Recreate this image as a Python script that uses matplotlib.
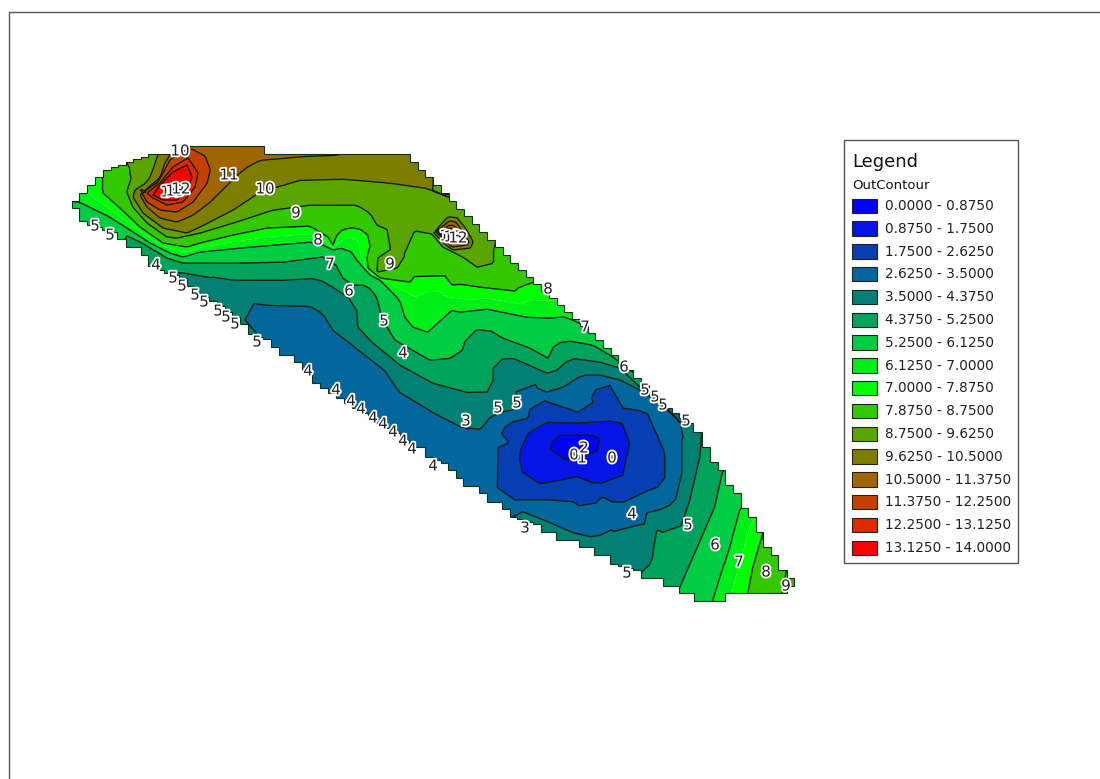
import numpy as np
import matplotlib
matplotlib.use("Agg")
import matplotlib.pyplot as plt
from matplotlib.patches import Polygon, Rectangle
from matplotlib.tri import Triangulation
import matplotlib.patheffects as pe

plt.rcParams['font.family'] = ['DejaVu Sans']

# ---- legend ----------------------------------------------------------------
band_edges = [0.0, 0.875, 1.75, 2.625, 3.5, 4.375, 5.25, 6.125, 7.0, 7.875,
              8.75, 9.625, 10.5, 11.375, 12.25, 13.125, 14.0]
band_labels = ["0.0000 - 0.8750", "0.8750 - 1.7500", "1.7500 - 2.6250", "2.6250 - 3.5000",
               "3.5000 - 4.3750", "4.3750 - 5.2500", "5.2500 - 6.1250", "6.1250 - 7.0000",
               "7.0000 - 7.8750", "7.8750 - 8.7500", "8.7500 - 9.6250", "9.6250 - 10.5000",
               "10.5000 - 11.3750", "11.3750 - 12.2500", "12.2500 - 13.1250", "13.1250 - 14.0000"]
band_colors = ["#0000ff", "#0515e8", "#063fb4", "#03669c", "#028073", "#00a35c", "#00cc44", "#00ef18",
               "#00ff00", "#33c800", "#5aa500", "#7d7d00", "#a06400", "#c34100", "#e12800", "#ff0000"]

# ---- contour lines (image pixel positions) ----------------------------------
iso_0875 = [(550,447),(553,438),(563,435),(597,435),(600,440),(597,453),(580,455),(560,463),(550,463),(550,447)]
iso_1750 = [(518,455),(528,433),(547,422),(573,423),(610,421),(622,423),(630,443),(648,455),(648,470),
            (633,472),(597,485),(577,477),(547,483),(525,485),(518,455)]
iso_2625 = [(500,510),(503,503),(517,500),(547,500),(573,502),(587,512),(602,497),(618,505),(650,490),(665,485),
            (665,453),(658,437),(663,427),(657,417),(638,410),(623,408),(640,400),(617,383),(588,392),(593,402),
            (578,412),(537,398),(533,395),(528,418),(507,423),(498,440),(497,487),(500,510)]
iso_3500_a = [(228,296),(233,300),(267,305),(310,306),(323,313),(333,330),(350,343),(385,370),(400,392),(433,412),
              (462,427),(480,429),(488,420),(494,400),(500,412),(513,410),(517,400),(515,390),(508,382),(510,373),
              (517,373),(533,378),(537,388),(547,392),(563,387),(582,375),(600,375),(620,380),(640,390),(660,403),
              (673,415),(687,430),(682,440),(682,473),(675,503),(660,510),(647,513),(642,537),(633,549),(622,543),
              (612,530),(595,538),(573,533),(543,520),(523,512),(513,517),(505,525)]
iso_3500_b = [(233,300),(243,318),(255,332),(262,345)]
iso_4375_a = [(152,276),(160,270),(183,272),(200,275),(233,280),(283,280),(317,278),(333,287),(357,303),(358,327),
              (372,342),(400,365),(433,383),(467,392),(487,392),(493,380),(493,360),(513,358),(547,373),(557,370),
              (570,358),(600,362),(620,368),(640,387),(648,394)]
iso_4375_b = [(708,425),(702,432),(700,457),(690,500),(680,530),(672,537),(657,530),(654,547),(652,563),(643,571),(636,580)]
iso_5250_a = [(112,226),(120,232),(143,243),(167,258),(183,263),(200,263),(233,263),(283,262),(313,258),(335,255),
              (335,263),(343,278),(353,285),(367,285),(377,297),(382,318),(395,340),(430,360),(450,358),(462,350),
              (467,333),(485,327),(503,338),(530,348),(548,358),(555,343),(570,341),(593,345),(613,357),(630,370),(638,376)]
iso_5250_b = [(730,465),(723,472),(715,507),(702,537),(680,588),(675,600)]
iso_6125_a = [(66,200),(80,202),(103,213),(127,228),(150,243),(170,253),(183,257),(200,252),(250,247),(310,242),(323,245),
              (333,250),(348,247),(357,260),(370,275),(380,280),(400,300),(405,317),(413,327),(428,332),(418,322),
              (417,312),(437,307),(460,312),(487,309),(527,317),(550,318),(557,314),(578,322),(586,328)]
iso_6125_b = [(746,503),(740,510),(730,547),(713,601),(710,610)]
iso_7875_a = [(103,166),(103,183),(103,193),(120,208),(140,227),(163,243),(187,247),(200,243),(233,235),(267,228),(310,226),
              (328,237),(333,245),(338,232),(350,227),(363,230),(372,240),(367,257),(368,268),(380,278),(410,282),
              (425,262),(437,258),(443,273),(452,285),(460,284),(480,287),(515,291),(525,281),(540,283),(548,276)]
iso_7875_b = [(768,528),(763,533),(753,567),(748,593),(746,600)]
iso_8750_a = [(124,156),(127,163),(133,173),(127,192),(133,207),(147,223),(167,237),(177,238),(200,233),(233,223),(273,210),
              (310,205),(357,205),(370,213),(377,225),(393,232),(410,233),(425,228),(433,235),(443,247),(463,257),
              (477,267),(493,263),(493,250),(496,238),(502,232)]
iso_8750_b = [(378,258),(393,248),(405,255),(397,268),(377,272),(378,258)]
iso_8750_c = [(792,566),(787,570),(782,593),(780,600)]
iso_9625_a = [(160,148),(158,155),(153,170),(148,182),(135,190),(133,197),(143,213),(163,228),(187,233),(200,227),(233,210),
              (260,192),(300,180),(343,179),(393,183),(427,188),(448,197),(454,192)]
iso_9625_b = [(434,233),(448,217),(457,218),(465,228),(473,242),(470,248),(453,250),(446,245),(434,233)]
iso_10500_a = [(172,148),(170,155),(165,163),(160,178),(150,186),(140,195),(147,207),(160,218),(177,222),(193,215),
               (210,202),(227,185),(237,175),(247,167),(260,160),(310,156),(337,155),(345,148)]
iso_10500_b = [(436,232),(449,221),(456,222),(462,231),(469,242),(467,245),(452,247),(448,243),(436,232)]
iso_11375_a = [(192,150),(205,157),(210,170),(207,183),(193,202),(177,212),(160,210),(147,202),(142,193),(158,182),
               (170,160),(182,152),(192,150)]
iso_11375_b = [(438,232),(450,225),(455,226),(460,234),(464,241),(452,244),(438,232)]
iso_12250_a = [(188,158),(198,173),(195,187),(183,202),(167,205),(153,198),(147,193),(160,183),(173,167),(188,158)]
iso_12250_b = [(440,232),(450,228),(456,231),(460,238),(452,242),(440,232)]
iso_13125_a = [(187,165),(192,177),(187,190),(177,200),(163,200),(153,195),(160,185),(173,172),(187,165)]
iso_13125_b = [(442,233),(451,231),(455,236),(451,239),(442,233)]

iso_lines = [(0.875, iso_0875), (1.75, iso_1750), (2.625, iso_2625),
             (3.5, iso_3500_a), (3.5, iso_3500_b), (4.375, iso_4375_a), (4.375, iso_4375_b),
             (5.25, iso_5250_a), (5.25, iso_5250_b), (6.125, iso_6125_a), (6.125, iso_6125_b),
             (7.875, iso_7875_a), (7.875, iso_7875_b), (8.75, iso_8750_a), (8.75, iso_8750_b), (8.75, iso_8750_c),
             (9.625, iso_9625_a), (9.625, iso_9625_b), (10.5, iso_10500_a), (10.5, iso_10500_b),
             (11.375, iso_11375_a), (11.375, iso_11375_b), (12.25, iso_12250_a), (12.25, iso_12250_b),
             (13.125, iso_13125_a), (13.125, iso_13125_b)]

# spot values between the lines and around the map edge
spot_x = [176,181,168,451,572,590,390,  225,300,  60,60,85,100,125,150,200,300,420,455,
          100,135,200,240,262,330,400,450,490,525,580,630,660,695,730,765,800,812,
          520,560,610,640,665,680,705,732,752,775,795,806,
          300,300,258,430,300,600,620,700,700,720,770,470,530,560,
          250,400,380,470,210,430,500,540, 40,40,830,830,830,300,300,40,
          445,462,430,482,482, 280,305,325,360,400,440]
spot_y = [186,176,194,235,447,445,260,  160,165,  200,216,182,165,150,146,136,140,150,190,
          242,264,312,342,352,402,452,487,522,532,562,587,602,617,617,612,607,575,
          250,290,332,372,392,405,418,452,495,525,555,570,
          195,293,320,345,270,400,430,480,565,550,570,300,330,380,
          208,210,300,270,257,397,440,440, 120,320,120,320,640,120,640,640,
          208,208,212,245,225, 322,325,345,385,415,440]
spot_z = [14.0,14.0,14.0,14.0,0.4,0.4,9.1,  11.0,10.0,  7.0,5.7,7.5,8.3,8.3,9.2,11.2,10.6,9.9,9.2,
          5.7,4.8,4.0,3.9,3.1,3.1,3.1,3.1,3.1,4.0,4.0,4.0,4.8,5.7,7.0,8.3,9.2,9.2,
          8.3,7.5,5.7,4.8,4.0,3.1,3.9,4.8,5.7,7.0,8.3,9.2,
          9.2,3.9,3.1,5.7,4.8,2.2,1.3,4.8,5.7,5.7,8.3,7.0,5.7,3.9,
          9.2,9.2,5.7,8.3,5.7,3.9,3.1,1.3, 7.0,4.0,9.0,5.0,7.0,10.5,4.0,3.0,
          9.2,9.2,9.2,9.2,9.2, 3.1,3.1,3.1,3.1,3.1,3.1]

# stair-stepped map outline: anchor corners
outline_top_rise = [(72,201),(79,193),(87,185),(95,177),(103,170),(126,162),(148,154),(173,154),(189,146)]
outline_top_flat = [(264,146),(264,154),(410,154)]
outline_right = [(518,263),(603,340),(633,370),(672,408),(693,423),(702,432),(702,447),(710,447),(710,462),(718,462),
                 (718,470),(725,470),(725,485),(733,485),(741,493),(741,508),(748,508),(748,517),(756,517),(756,532),
                 (763,532),(763,547),(771,547),(771,555),(778,555),(778,570),(787,570),(787,578),(794,578),(794,586),
                 (787,586),(787,593),(725,593),(725,601),(694,601),(694,593),(679,593),(679,586),(663,586),(663,578),(641,578)]
outline_low = [(72,208),(79,208),(79,216),(95,225),(117,232),(117,239),(126,239),(126,247),(141,247),(141,255),(148,255),
               (148,262),(164,270),(187,278),(200,293),(217,301),(240,317),(248,324),(248,332),(271,339),(271,347),(279,347),
               (279,355),(294,355),(294,362),(302,362),(312,370),(312,378),(400,433),(417,447),(425,447),(433,457),(448,463),
               (448,470),(456,470),(456,478),(463,478),(463,486),(479,486),(479,493),(487,493),(487,502),(502,502),(502,509),
               (510,509),(510,517),(517,517),(541,524),(541,532),(556,532),(556,540),(579,540),(579,547),(594,547),(594,555),
               (610,555),(610,562),(641,570),(641,578)]

# contour labels
label_text = ["5","5","4","5","5","5","5","5","5","5","5","4","4","4","4","4","4","4","4","4","4",
              "3","5","3","5","5","0","1","2","0","4","5","6","7","8","9","5","5","5","5","6","7","8",
              "10","11","10","9","8","7","6","5","4","9","14","13","12","14","13","12"]
label_x = [95,110,156,173,182,195,204,218,226,235,257,308,336,351,361,373,383,393,403,412,433,
           525,627,466,498,517,574,582,584,612,632,688,715,739,766,786,686,645,655,663,624,585,548,
           180,229,265,296,318,330,349,384,403,390,170,175,181,449,453,458]
label_y = [226,235,265,278,286,295,302,311,317,324,342,371,390,401,409,418,424,432,441,449,466,
           528,573,421,408,403,455,458,448,458,514,525,545,562,572,586,421,390,397,405,367,327,289,
           151,175,189,213,240,264,291,321,353,264,192,191,189,236,237,238]

# ---- figure -------------------------------------------------------------------
fig = plt.figure(figsize=(11, 7.79), dpi=100)
ax = fig.add_axes([0, 0, 1, 1])
ax.set_xlim(0, 1100)
ax.set_ylim(779, 0)
ax.axis('off')

# page frame
ax.plot([9, 9, 1100], [779, 12, 12], color="#555555", lw=1.0, solid_capstyle='butt')


def stairs(points, first):
    """Turn anchor corners into map-cell steps."""
    out = [points[0]]
    for (x0, y0), (x1, y1) in zip(points[:-1], points[1:]):
        dx, dy = x1 - x0, y1 - y0
        if dx == 0 or dy == 0:
            out.append((x1, y1))
            continue
        n = max(1, int(round(max(abs(dx), abs(dy)) / 7.7)))
        for i in range(n):
            xa, xb = x0 + dx * i / n, x0 + dx * (i + 1) / n
            ya, yb = y0 + dy * i / n, y0 + dy * (i + 1) / n
            out += [(xb, ya), (xb, yb)] if first == 'x' else [(xa, yb), (xb, yb)]
    return out


outer = (stairs(outline_top_rise, 'x') + outline_top_flat[:] + stairs([outline_top_flat[-1]] + [outline_right[0]], 'y')
         + stairs(outline_right, 'y') + stairs(outline_low, 'y')[::-1])


def trace(points, step=2.5):
    """Sample a read contour along its length so the triangulation follows it."""
    p = np.array(points, float)
    d = np.r_[0, np.cumsum(np.hypot(*np.diff(p, axis=0).T))]
    t = np.linspace(0, d[-1], max(2, int(d[-1] / step) + 1))
    return np.interp(t, d, p[:, 0]), np.interp(t, d, p[:, 1])


xs, ys, zs = [np.array(spot_x, float)], [np.array(spot_y, float)], [np.array(spot_z, float)]
for level, line in iso_lines:
    a, b = trace(line)
    xs.append(a)
    ys.append(b)
    zs.append(np.full(a.size, level + 0.01))
xs, ys, zs = np.concatenate(xs), np.concatenate(ys), np.concatenate(zs)
xy = np.round(np.c_[xs, ys], 1)
_, keep = np.unique(xy, axis=0, return_index=True)
keep = np.sort(keep)
tri = Triangulation(xs[keep], ys[keep])
values = zs[keep]

clip = Polygon(outer, closed=True, transform=ax.transData, facecolor='none', edgecolor='none')
ax.add_patch(clip)
filled = ax.tricontourf(tri, values, levels=band_edges, colors=band_colors, extend='neither', antialiased=True)
filled.set_clip_path(clip)
line_levels = [v for v in band_edges[1:-1] if v != 7.0]
lines = ax.tricontour(tri, values, levels=line_levels, colors="#0a1a0a", linewidths=0.95)
lines.set_clip_path(clip)
ax.add_patch(Polygon(outer, closed=True, facecolor='none', edgecolor="#123312", lw=0.8))

halo = [pe.withStroke(linewidth=2.6, foreground='white')]
for tx, lx, ly in zip(label_text, label_x, label_y):
    ax.text(lx, ly, tx, fontsize=10.8, color="#222222", ha='center', va='center', path_effects=halo, zorder=6)

# legend box
ax.add_patch(Rectangle((844, 140), 174, 423, facecolor='white', edgecolor="#555555", lw=1.0, zorder=7))
ax.text(852, 162, "Legend", fontsize=13, color="#111111", va='center', zorder=8)
ax.text(852, 185, "OutContour", fontsize=9.5, color="#111111", va='center', zorder=8)
for i, (lab, col) in enumerate(zip(band_labels, band_colors)):
    y = 198.5 + i * 22.8
    ax.add_patch(Rectangle((852, y), 25, 14.5, facecolor=col, edgecolor="#222222", lw=0.8, zorder=8))
    ax.text(885, y + 7.5, lab, fontsize=9.8, color="#222222", va='center', zorder=8)

fig.savefig("out.png", dpi=100, facecolor='white')
